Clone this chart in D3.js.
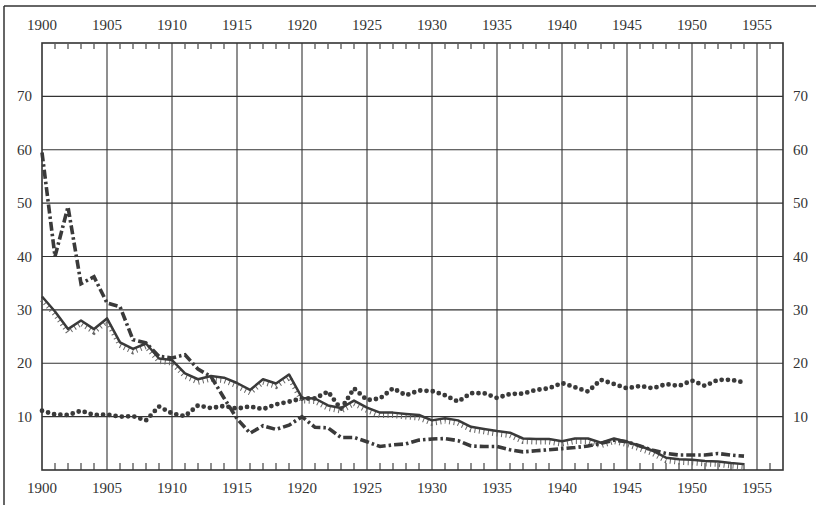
<!DOCTYPE html>
<html><head><meta charset="utf-8">
<script src="https://cdn.jsdelivr.net/npm/d3@7"></script>
<style>
html,body{margin:0;padding:0;background:#fff;}
svg{display:block;}
text{font-family:"Liberation Serif","DejaVu Serif",serif;fill:#333;}
</style></head>
<body><svg id="c" width="816" height="505"></svg>
<script>
const years = [1900,1901,1902,1903,1904,1905,1906,1907,1908,1909,1910,1911,1912,1913,1914,1915,1916,1917,1918,1919,1920,1921,1922,1923,1924,1925,1926,1927,1928,1929,1930,1931,1932,1933,1934,1935,1936,1937,1938,1939,1940,1941,1942,1943,1944,1945,1946,1947,1948,1949,1950,1951,1952,1953,1954];
const dashDotSeries = [59.5,40,49.3,34.9,36.2,31.3,30.6,24.4,23.8,21.3,21,21.6,18.9,17.5,13.5,9.6,6.9,8.3,7.6,8.4,10,8,7.9,6.1,6.1,5.3,4.4,4.7,4.9,5.6,5.8,5.9,5.5,4.5,4.4,4.4,3.8,3.4,3.6,3.8,4.0,4.2,4.5,5.0,5.6,5.3,4.5,3.7,3.1,2.8,2.8,2.8,3.1,2.8,2.6];
const solidSeries = [32.5,29.7,26.4,28,26.4,28.4,23.9,22.7,23.7,20.9,20.6,18.1,17,17.6,17.3,16.3,15,17,16.2,17.9,13.5,13.4,12.1,11.6,13,11.7,10.75,10.75,10.5,10.3,9.3,9.7,9.3,8.1,7.7,7.3,7.0,5.9,5.8,5.8,5.4,5.9,5.9,5.1,5.9,5.3,4.5,3.6,2.3,2.0,1.9,1.7,1.6,1.3,1.1];
const dottedSeries = [11.1,10.4,10.3,11.1,10.3,10.4,10,10.1,9.3,11.9,10.6,10.1,12.1,11.6,12,11.5,11.9,11.4,12.3,12.8,13.4,13.4,14.7,11.4,15.3,13.1,13.4,15.3,14,14.9,14.8,14,12.8,14.4,14.4,13.5,14.25,14.3,15,15.3,16.3,15.5,14.7,16.9,16.1,15.3,15.75,15.3,16.1,15.75,16.75,15.75,16.9,16.9,16.4];
const majorYears = [1900,1905,1910,1915,1920,1925,1930,1935,1940,1945,1950,1955];
const minorYears = [1901,1902,1903,1904,1906,1907,1908,1909,1911,1912,1913,1914,1916,1917,1918,1919,1921,1922,1923,1924,1926,1927,1928,1929,1931,1932,1933,1934,1936,1937,1938,1939,1941,1942,1943,1944,1946,1947,1948,1949,1951,1952,1953,1954,1956];
const yTicks = [10,20,30,40,50,60,70];

const svg = d3.select("#c");
const L=42, R=783, T=43, B=470;
const x = d3.scaleLinear().domain([1900,1957]).range([L,R]);
const y = d3.scaleLinear().domain([0,80]).range([B,T]);
const ink = "#333";

// outer frame
svg.append("line").attr("x1",4).attr("x2",816).attr("y1",6).attr("y2",6).attr("stroke",ink).attr("stroke-width",1.5);
svg.append("line").attr("x1",4).attr("x2",4).attr("y1",6).attr("y2",505).attr("stroke",ink).attr("stroke-width",1.5);

// grid
const g = svg.append("g");
g.selectAll("line.v").data(majorYears.filter(d=>d>1900)).join("line")
  .attr("x1",d=>x(d)).attr("x2",d=>x(d)).attr("y1",T).attr("y2",B)
  .attr("stroke",ink).attr("stroke-width",1.1);
g.selectAll("line.h").data(yTicks).join("line")
  .attr("x1",L).attr("x2",R).attr("y1",d=>y(d)).attr("y2",d=>y(d))
  .attr("stroke",ink).attr("stroke-width",1.1);
// minor ticks
g.selectAll("line.mt").data(minorYears).join("line")
  .attr("x1",d=>x(d)).attr("x2",d=>x(d)).attr("y1",T+1).attr("y2",T+6)
  .attr("stroke",ink).attr("stroke-width",1.1);
g.selectAll("line.mb").data(minorYears).join("line")
  .attr("x1",d=>x(d)).attr("x2",d=>x(d)).attr("y1",B).attr("y2",B-7)
  .attr("stroke",ink).attr("stroke-width",1.1);
// plot border
svg.append("rect").attr("x",L).attr("y",T).attr("width",R-L).attr("height",B-T)
  .attr("fill","none").attr("stroke",ink).attr("stroke-width",1.6);

// labels
const fs = 15;
svg.selectAll("text.tx").data(majorYears).join("text")
  .attr("x",d=>x(d)).attr("y",30).attr("text-anchor","middle").attr("font-size",fs).text(d=>d);
svg.selectAll("text.bx").data(majorYears).join("text")
  .attr("x",d=>x(d)).attr("y",493).attr("text-anchor","middle").attr("font-size",fs).text(d=>d);
svg.selectAll("text.ly").data(yTicks).join("text")
  .attr("x",32).attr("y",d=>y(d)+5).attr("text-anchor","end").attr("font-size",fs).text(d=>d);
svg.selectAll("text.ry").data(yTicks).join("text")
  .attr("x",793).attr("y",d=>y(d)+5).attr("text-anchor","start").attr("font-size",fs).text(d=>d);

const lineOf = arr => d3.line().x((d,i)=>x(years[i])).y(d=>y(d))(arr);
const lc = "#3a3a3a";
// dotted
svg.append("path").attr("d",lineOf(dottedSeries)).attr("fill","none")
  .attr("stroke",lc).attr("stroke-width",4.8).attr("stroke-linecap","round").attr("stroke-dasharray","0,6.3");
// solid with hatch
svg.append("path").attr("d",lineOf(solidSeries)).attr("fill","none")
  .attr("stroke","#666").attr("stroke-width",5).attr("stroke-dasharray","1,3.5")
  .attr("transform","translate(0,3)");
svg.append("path").attr("d",lineOf(solidSeries)).attr("fill","none")
  .attr("stroke",lc).attr("stroke-width",2.5).attr("stroke-linejoin","round");
// dash-dot
svg.append("path").attr("d",lineOf(dashDotSeries)).attr("fill","none")
  .attr("stroke",lc).attr("stroke-width",3.6).attr("stroke-dasharray","9,3,2.5,3");
</script></body></html>
